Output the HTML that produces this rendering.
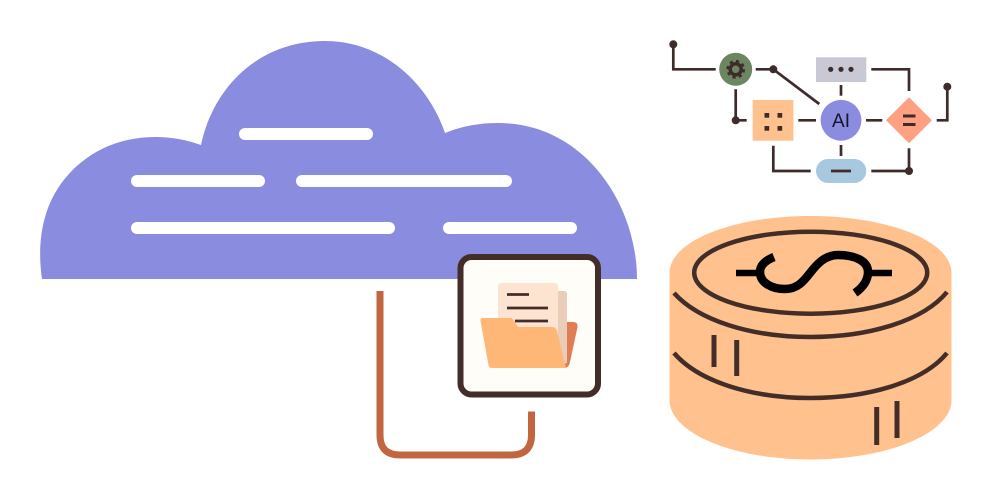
<!DOCTYPE html>
<html>
<head>
<meta charset="utf-8">
<style>
html,body{margin:0;padding:0;background:#fff;width:992px;height:500px;overflow:hidden}
svg{display:block}
</style>
</head>
<body>
<svg width="992" height="500" viewBox="0 0 992 500" xmlns="http://www.w3.org/2000/svg">
<rect width="992" height="500" fill="#fff"/>
<!-- cloud -->
<path d="M42,279 C37,245 41,205 68,175 C92,148 124,137 155,137 C172,137 187,140 201,145 C213,88 258,41 325,41 C383,41 428,83 445,133 C462,126 480,123 498,123 C585,123 637,205 637,279 Z" fill="#8a8ce0"/>
<g fill="#fff">
<rect x="239" y="128" width="134" height="12" rx="6"/>
<rect x="131" y="175" width="134" height="12" rx="6"/>
<rect x="296" y="175" width="216" height="12" rx="6"/>
<rect x="131" y="222" width="264" height="12" rx="6"/>
<rect x="443" y="222" width="134" height="12" rx="6"/>
</g>
<!-- connector -->
<path d="M380,291 V435 Q380,455 400,455 H511 Q531.500,455 531.500,435 V411.500" fill="none" stroke="#c1663f" stroke-width="7"/>
<!-- tile -->
<rect x="460.500" y="257" width="137.500" height="137.500" rx="11" fill="#fffdf8" stroke="#432d28" stroke-width="6"/>
<path d="M560,322 H573 Q578,322 577.500,327 L570,362 Q569,368 564,368 H555 Z" fill="#e07d52"/>
<path d="M555,291 H564 Q567,291 567,294 V363 L563,364 L555,330 Z" fill="#e9cdb8"/>
<path d="M498,286 Q498,283 501,283 H555 Q558,283 558,286 V335 H498 Z" fill="#fde4d0"/>
<g stroke="#432d28" stroke-width="2.700" fill="none">
<path d="M507,294.500 H529"/>
<path d="M507,308 H548"/>
<path d="M515,321 H548"/>
</g>
<path d="M483,318 H510 Q513,318 514,321 L518,327 H552 Q556,327 557,331 L566,368 H492 Q489,368 488.500,365 L480.500,321 Q480,318 483,318 Z" fill="#ffb777"/>
<!-- coin -->
<path d="M669.500,273 C669.500,241 733,216 810.500,216 C888,216 951.500,241 951.500,273 V400 C951.500,433 888,459.500 810.500,459.500 C733,459.500 669.500,433 669.500,400 Z" fill="#ffc28e"/>
<ellipse cx="810.700" cy="272.700" rx="116.500" ry="41" fill="none" stroke="#432d28" stroke-width="4.500"/>
<path d="M674,293 C698,320 750,337 810.500,337 C871,337 924,320 947,292" fill="none" stroke="#432d28" stroke-width="4.500"/>
<path d="M674,353 C698,381 750,398 810.500,398 C871,398 924,381 947,353" fill="none" stroke="#432d28" stroke-width="4.500"/>
<g stroke="#432d28" stroke-width="5" fill="none">
<path d="M714,335 V367"/>
<path d="M736.700,340 V376"/>
<path d="M876.700,407 V445"/>
<path d="M897,401 V438"/>
</g>
<g fill="none" stroke="#000">
<path d="M774,257 C764,261 760,266 760,272 C760,283 772,289 785,289 C797,289 803,282 810,273 C817,264 825,255 838,255 C853,255 868,260 868,272 C868,281 862,288 855,293" stroke-width="8.500"/>
<path d="M736,273 H758 M868,273 H892" stroke-width="6.500"/>
</g>
<!-- diagram -->
<g fill="none" stroke="#3d2c2a" stroke-width="2.700">
<path d="M673.300,44 V69.300 H715.700"/>
<path d="M755.700,69.300 H773.300 L819.300,104"/>
<path d="M735.700,89.300 V120.300 H746.700"/>
<path d="M798.300,120.300 H816"/>
<path d="M841,85 V95.700"/>
<path d="M841,145 V156"/>
<path d="M866,120.300 H882.300"/>
<path d="M871.300,69.300 H909 V91"/>
<path d="M909,148.300 V171 H871.300"/>
<path d="M773.300,145.700 V171 H810.700"/>
<path d="M936.700,120.300 H947.300 V86.700"/>
</g>
<g fill="#3d2c2a">
<circle cx="673.300" cy="44.300" r="4"/>
<circle cx="773.300" cy="69.300" r="4"/>
<circle cx="735.700" cy="120.300" r="4"/>
<circle cx="909" cy="171" r="4"/>
<circle cx="947.300" cy="86.700" r="4"/>
</g>
<circle cx="735.700" cy="69.300" r="16.500" fill="#6c8662"/>
<circle cx="735.700" cy="69.300" r="5.500" fill="none" stroke="#3d2c2a" stroke-width="3.500"/>
<circle cx="735.700" cy="69.300" r="8" fill="none" stroke="#3d2c2a" stroke-width="2.800" stroke-dasharray="3.100 3.180"/>
<rect x="816" y="57.300" width="50.300" height="24.700" fill="#c9c9d6"/>
<g fill="#3d2c2a">
<circle cx="830.700" cy="69.300" r="2.600"/>
<circle cx="841" cy="69.300" r="2.600"/>
<circle cx="851" cy="69.300" r="2.600"/>
</g>
<rect x="752.700" y="100" width="40.700" height="40.700" fill="#ffc28e"/>
<g fill="#3d2c2a">
<rect x="764.500" y="113" width="4.700" height="4.700"/>
<rect x="777.500" y="113" width="4.700" height="4.700"/>
<rect x="764.500" y="126" width="4.700" height="4.700"/>
<rect x="777.500" y="126" width="4.700" height="4.700"/>
</g>
<circle cx="841" cy="120.300" r="20.400" fill="#8a8ce0"/>
<text x="841" y="127" text-anchor="middle" font-family="'Liberation Sans', sans-serif" font-size="19" fill="#14142a">AI</text>
<path d="M909,97.300 L932,120.300 L909,143.300 L886,120.300 Z" fill="#ffa083"/>
<path d="M903,116 H915.500 M903,124.500 H915.500" stroke="#3d2c2a" stroke-width="3" fill="none"/>
<rect x="816" y="159" width="50.300" height="24" rx="12" fill="#a8c8e0"/>
<path d="M831,171 H851" stroke="#3d2c2a" stroke-width="2.700" fill="none"/>
</svg>
</body>
</html>
